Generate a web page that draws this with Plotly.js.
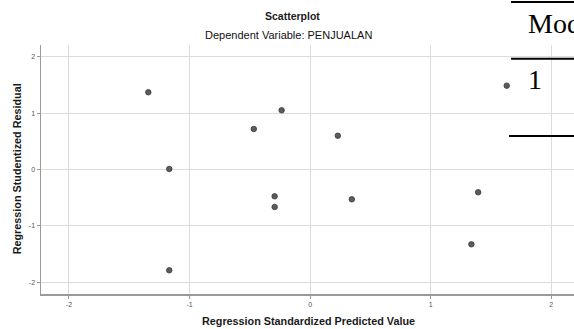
<!DOCTYPE html>
<html>
<head>
<meta charset="utf-8">
<script src="https://cdn.plot.ly/plotly-3.0.1.min.js"></script>
<style>html,body{margin:0;padding:0;background:#fff;}#chart{width:574px;height:329px;}</style>
</head>
<body>
<div id="chart"></div>
<script>
// Regression Standardized Predicted Value
const predicted = [-1.342, -0.236, -0.467, 0.230, -1.168, -0.294, -0.294, 0.346, 1.394, 1.338, -1.168, 1.631];
// Regression Studentized Residual
const residual  = [1.369, 1.050, 0.718, 0.599, 0.010, -0.475, -0.665, -0.528, -0.404, -1.326, -1.787, 1.486];
const tickVals = [-2, -1, 0, 1, 2];
const tickText = ['-2', '-1', '0', '1', '2'];

// plot area in pixels: left 40.7, right 574, top 45, bottom 294
const L = 40.7, R = 574, T = 45, B = 294;
const px = x => (x - L) / (R - L);
const py = y => (B - y) / (B - T);

const trace = {
  x: predicted, y: residual, type: 'scatter', mode: 'markers',
  marker: {size: 5.5, color: '#5c5c5c', line: {color: '#3a3a3a', width: 0.8}},
  hoverinfo: 'skip', cliponaxis: false
};

const axisCommon = {
  tickvals: tickVals, ticktext: tickText,
  showgrid: true, gridcolor: '#dcdcdc', gridwidth: 1,
  zeroline: false, showline: true, linecolor: '#9a9a9a', linewidth: 1.5,
  ticks: 'outside', ticklen: 3, tickcolor: '#9a9a9a', tickwidth: 1,
  tickfont: {family: 'Liberation Sans, Arial, sans-serif', size: 7, color: '#555'}
};

const FONT = 'Liberation Sans, Arial, sans-serif';
const layout = {
  width: 574, height: 329,
  margin: {l: 40.7, r: 0, t: 45, b: 35, pad: 0},
  paper_bgcolor: '#fff', plot_bgcolor: '#fff',
  showlegend: false,
  xaxis: Object.assign({}, axisCommon, {range: [-2.232, 2.189], automargin: false}),
  yaxis: Object.assign({}, axisCommon, {range: [-2.207, 2.207], automargin: false}),
  annotations: [
    {text: '<b>Scatterplot</b>', xref: 'paper', yref: 'paper', x: px(292), y: py(15.7),
     xanchor: 'center', yanchor: 'middle', showarrow: false,
     font: {family: FONT, size: 10.5, color: '#1a1a1a'}},
    {text: 'Dependent Variable: PENJUALAN', xref: 'paper', yref: 'paper', x: px(288.5), y: py(35),
     xanchor: 'center', yanchor: 'middle', showarrow: false,
     font: {family: FONT, size: 11, color: '#111'}},
    {text: '<b>Regression Standardized Predicted Value</b>', xref: 'paper', yref: 'paper', x: px(308), y: py(321),
     xanchor: 'center', yanchor: 'middle', showarrow: false,
     font: {family: FONT, size: 10.8, color: '#1a1a1a'}},
    {text: '<b>Regression Studentized Residual</b>', xref: 'paper', yref: 'paper', x: px(17), y: py(169),
     xanchor: 'center', yanchor: 'middle', showarrow: false, textangle: -90,
     font: {family: FONT, size: 10.8, color: '#1a1a1a'}},
    // overlapping document table fragment (cut off at the right edge, as in the reference)
    {text: 'Mod', xref: 'paper', yref: 'paper', x: px(526), y: py(23),
     xanchor: 'left', yanchor: 'middle', showarrow: false,
     font: {family: 'Liberation Serif, Times New Roman, serif', size: 28, color: '#000'}},
    {text: '1', xref: 'paper', yref: 'paper', x: px(526), y: py(79),
     xanchor: 'left', yanchor: 'middle', showarrow: false,
     font: {family: 'Liberation Serif, Times New Roman, serif', size: 28, color: '#000'}}
  ],
  shapes: [
    {type: 'line', xref: 'paper', yref: 'paper', x0: px(511), x1: px(574), y0: py(2), y1: py(2), line: {color: '#000', width: 2}},
    {type: 'line', xref: 'paper', yref: 'paper', x0: px(511), x1: px(574), y0: py(58.7), y1: py(58.7), line: {color: '#000', width: 2}},
    {type: 'line', xref: 'paper', yref: 'paper', x0: px(509), x1: px(574), y0: py(136), y1: py(136), line: {color: '#000', width: 2}}
  ]
};

Plotly.newPlot('chart', [trace], layout, {staticPlot: true, displayModeBar: false});
</script>
</body>
</html>
